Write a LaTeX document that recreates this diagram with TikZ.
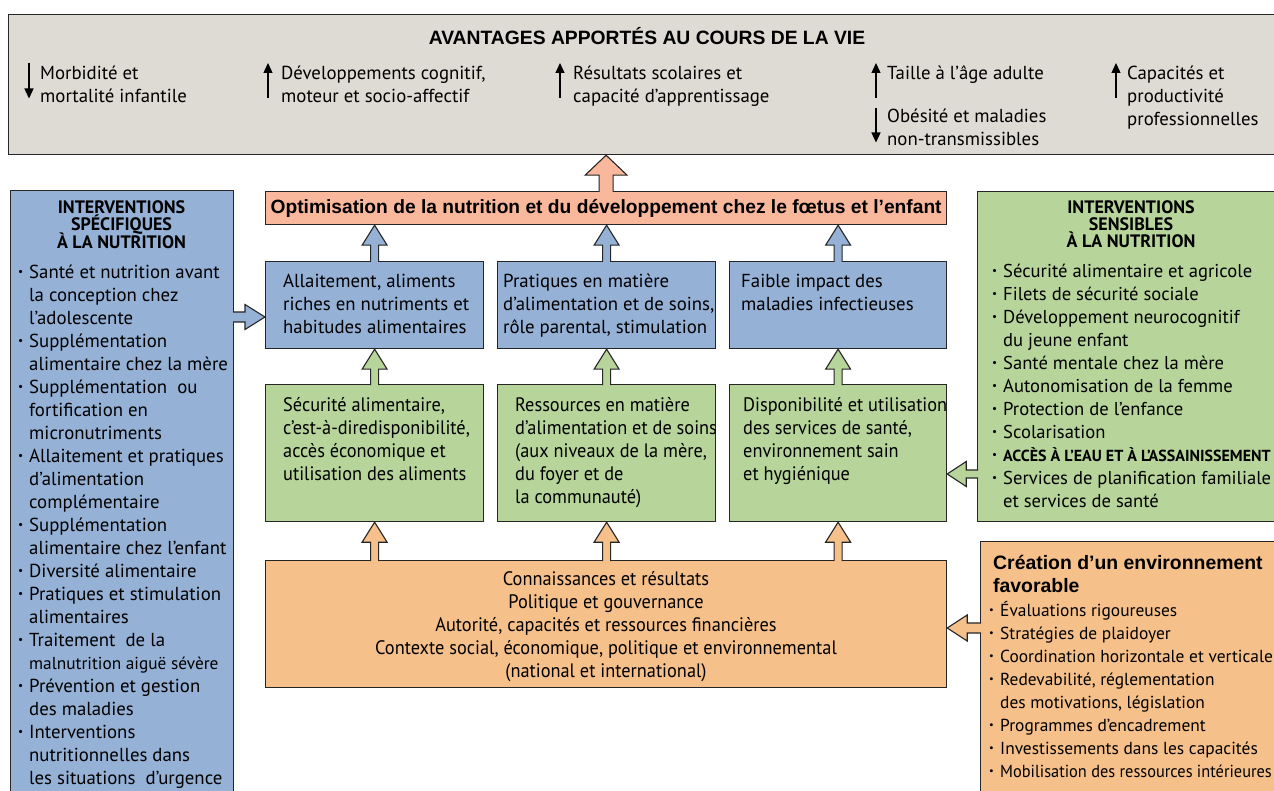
\documentclass[tikz,border=0pt]{standalone}
\usepackage{fontspec}
\setmainfont{PT Sans}
\newfontfamily\helvfont{Liberation Sans}
\newfontfamily\narrowfont[FakeStretch=0.94]{PT Sans}
\usetikzlibrary{positioning,calc,arrows.meta}

\definecolor{benefitgrey}{RGB}{222,218,212}
\definecolor{specblue}{RGB}{149,177,214}
\definecolor{sensgreen}{RGB}{183,212,154}
\definecolor{envorange}{RGB}{246,192,138}
\definecolor{optsalmon}{RGB}{249,183,156}

\newcommand{\bul}{\makebox[11pt][l]{\raisebox{0.3ex}{\scalebox{0.6}{\textbullet}}}}
\newcommand{\ind}{\hspace*{11pt}}
\newcommand{\topline}{\rule{0pt}{18pt}}

% block arrow pointing up, from #1 to #2
\newcommand{\blockup}[6]{%
  \filldraw[blockarrow,fill=#3] let \p1=(#1), \p2=(#2) in
    (\x1-#4,\y1-1pt) -- (\x1-#4,\y2-#6) -- (\x1-#5,\y2-#6) -- (\x1,\y2)
    -- (\x1+#5,\y2-#6) -- (\x1+#4,\y2-#6) -- (\x1+#4,\y1-1pt);}
% block arrow sideways, at height #3
\newcommand{\blockside}[7]{%
  \filldraw[blockarrow,fill=#4] let \p1=(#1), \p2=(#2), \p3=(0,#3), \n1={sign(\x2-\x1)} in
    (\x1-\n1*1pt,\y3+#5) -- (\x2-\n1*#7,\y3+#5) -- (\x2-\n1*#7,\y3+#6) -- (\x2,\y3)
    -- (\x2-\n1*#7,\y3-#6) -- (\x2-\n1*#7,\y3-#5) -- (\x1-\n1*1pt,\y3-#5);}

\tikzset{
  panel/.style={draw=black!85, line width=1.2pt, anchor=north west, inner sep=0pt},
  txt/.style={anchor=north west, inner sep=0pt, align=left,
    font=\fontsize{18.8}{23}\selectfont},
  narrowtxt/.style={txt, font=\narrowfont\fontsize{19.5}{23}\selectfont},
  ttl/.style={anchor=north, inner sep=0pt, align=center,
    font=\bfseries\fontsize{18}{17}\selectfont},
  blockarrow/.style={draw=black!85, line width=1.1pt, line join=miter},
  benarrow/.style={-{Triangle[length=10pt,width=9pt]}, line width=1.3pt}
}

\begin{document}
\begin{tikzpicture}[x=1pt,y=-1pt]
\useasboundingbox (0,0) rectangle (1274,791);

% boxes
\node[panel, fill=benefitgrey, minimum width=1290pt, minimum height=140pt] (ben) at (8,14) {};
\node[panel, fill=specblue, minimum width=223pt, minimum height=620pt] (spec) at (10,190) {};
\node[panel, fill=sensgreen, minimum width=320pt, minimum height=330pt] (sens) at (977,191) {};
\node[panel, fill=envorange, minimum width=320pt, minimum height=270pt] (env) at (980,541) {};
\node[panel, fill=optsalmon, minimum width=681pt, minimum height=33pt,
  font=\helvfont\bfseries\fontsize{19.2}{20}\selectfont] (opt) at (265,191)
  {Optimisation de la nutrition et du développement chez le fœtus et l’enfant};
\node[panel, fill=specblue, minimum width=218pt, minimum height=87pt] (m1) at (265,261) {};
\node[panel, fill=specblue, minimum width=218pt, minimum height=87pt] (m2) at (497,261) {};
\node[panel, fill=specblue, minimum width=217pt, minimum height=87pt] (m3) at (729,261) {};
\node[panel, fill=sensgreen, minimum width=218pt, minimum height=137pt] (g1) at (265,384) {};
\node[panel, fill=sensgreen, minimum width=218pt, minimum height=137pt] (g2) at (497,384) {};
\node[panel, fill=sensgreen, minimum width=217pt, minimum height=137pt] (g3) at (729,384) {};
\node[panel, fill=envorange, minimum width=681pt, minimum height=127pt] (base) at (265,560) {};

% benefits
\node[font=\helvfont\bfseries\fontsize{19.3}{20}\selectfont] (bentitle) at (647,36) {AVANTAGES APPORTÉS AU COURS DE LA VIE};
\node[txt] (b1) at (40,61.5) {\topline Morbidité et\\mortalité infantile};
\node[txt] (b2) at (281,61.5) {\topline Développements cognitif,\\moteur et socio-affectif};
\node[txt] (b3) at (573,61.5) {\topline Résultats scolaires et\\capacité d'apprentissage};
\node[txt] (b4) at (887,61.5) {\topline Taille à l'âge adulte};
\node[txt] (b5) at (887,104.5) {\topline Obésité et maladies\\non-transmissibles};
\node[txt] (b6) at (1127,61.5) {\topline Capacités et\\productivité\\professionnelles};
\draw[benarrow] ([shift={(-11,1.5)}]b1.north west) -- ([shift={(-11,37)}]b1.north west);
\draw[benarrow] ([shift={(-13,36.5)}]b2.north west) -- ([shift={(-13,1.5)}]b2.north west);
\draw[benarrow] ([shift={(-13,36.5)}]b3.north west) -- ([shift={(-13,1.5)}]b3.north west);
\draw[benarrow] ([shift={(-11,36.5)}]b4.north west) -- ([shift={(-11,1.5)}]b4.north west);
\draw[benarrow] ([shift={(-11,3.5)}]b5.north west) -- ([shift={(-11,38)}]b5.north west);
\draw[benarrow] ([shift={(-11,36.5)}]b6.north west) -- ([shift={(-11,1.5)}]b6.north west);

% nutrition-specific
\node[ttl] (spectitle) at (121.5,195.3) {\topline INTERVENTIONS\\SPÉCIFIQUES\\[-3pt]À LA NUTRITION};
\node[txt] (speclist) at (18,260.5) {\topline\bul Santé et nutrition avant\\
  \ind la conception chez\\
  \ind l’adolescente\\
  \bul Supplémentation\\
  \ind alimentaire chez la mère\\
  \bul Supplémentation~ ou\\
  \ind fortification en\\
  \ind micronutriments\\
  \bul Allaitement et pratiques\\
  \ind d’alimentation\\
  \ind complémentaire\\
  \bul Supplémentation\\
  \ind alimentaire chez l’enfant\\
  \bul Diversité alimentaire\\
  \bul Pratiques et stimulation\\
  \ind alimentaires\\
  \bul Traitement~ de la\\
  \ind {\fontsize{17.3}{23}\selectfont malnutrition aiguë sévère}\\
  \bul Prévention et gestion\\
  \ind des maladies\\
  \bul Interventions\\
  \ind nutritionnelles dans\\
  \ind les situations~ d’urgence};

% middle boxes
\node[txt] (m1text) at (283,269.5) {\topline Allaitement, aliments\\riches en nutriments et\\habitudes alimentaires};
\node[txt] (m2text) at (503,269.5) {\topline Pratiques en matière\\d’alimentation et de soins,\\rôle parental, stimulation};
\node[txt] (m3text) at (741,269.5) {\topline Faible impact des\\maladies infectieuses};
\node[narrowtxt] (g1text) at (283,392.8)
  {\topline Sécurité alimentaire,\\c’est-à-diredisponibilité,\\accès économique et\\utilisation des aliments};
\node[narrowtxt] (g2text) at (515,392.8)
  {\topline Ressources en matière\\d’alimentation et de soins\\(aux niveaux de la mère,\\du foyer et de\\la communauté)};
\node[narrowtxt] (g3text) at (743,392.8)
  {\topline Disponibilité et utilisation\\des services de santé,\\environnement sain\\et hygiénique};
\node[narrowtxt, anchor=north, align=center] (basetext) at (606,566.8)
  {\topline Connaissances et résultats\\Politique et gouvernance\\Autorité, capacités et ressources financières\\Contexte social, économique, politique et environnemental\\(national et international)};

% nutrition-sensitive
\node[ttl] (senstitle) at (1131,195.3) {\topline INTERVENTIONS\\SENSIBLES\\À LA NUTRITION};
\node[txt, font=\fontsize{18.6}{23}\selectfont] (senslist) at (992,259.5) {\topline\bul Sécurité alimentaire et agricole\\
  \bul Filets de sécurité sociale\\
  \bul Développement neurocognitif\\
  \ind du jeune enfant\\
  \bul Santé mentale chez la mère\\
  \bul Autonomisation de la femme\\
  \bul Protection de l’enfance\\
  \bul Scolarisation\\
  \bul {\bfseries\fontsize{16}{23}\selectfont ACCÈS À L’EAU ET À L’ASSAINISSEMENT}\\
  \bul Services de planification familiale\\
  \ind et services de santé};

% enabling environment
\node[txt, font=\helvfont\bfseries\fontsize{19.4}{23}\selectfont] (envtitle) at (993,551) {\topline Création d’un environnement\\favorable};
\node[txt, font=\fontsize{17.4}{23}\selectfont] (envlist) at (989,597.8) {\topline\bul Évaluations rigoureuses\\
  \bul Stratégies de plaidoyer\\
  \bul Coordination horizontale et verticale\\
  \bul Redevabilité, réglementation\\
  \ind des motivations, législation\\
  \bul Programmes d’encadrement\\
  \bul Investissements dans les capacités\\
  \bul {\narrowfont Mobilisation des ressources intérieures}};

% arrows
\blockup{opt.north}{ben.south -| opt.north}{optsalmon}{7pt}{21pt}{20pt}
\foreach \a/\b in {m1/opt, m2/opt, m3/opt}
  \blockup{\a.north}{\b.south -| \a.north}{specblue}{4pt}{12.5pt}{20pt};
\foreach \a/\b in {g1/m1, g2/m2, g3/m3}
  \blockup{\a.north}{\b.south}{sensgreen}{4pt}{12.5pt}{20pt};
\foreach \b in {g1, g2, g3}
  \blockup{base.north -| \b.south}{\b.south}{envorange}{4pt}{12.5pt}{20pt};
\blockside{spec.east}{m1.west}{317}{specblue}{5pt}{12.5pt}{20pt}
\blockside{sens.west}{g3.east}{474}{sensgreen}{4pt}{12.5pt}{19pt}
\blockside{env.west}{base.east}{628}{envorange}{5pt}{13pt}{20pt}

\end{tikzpicture}
\end{document}
